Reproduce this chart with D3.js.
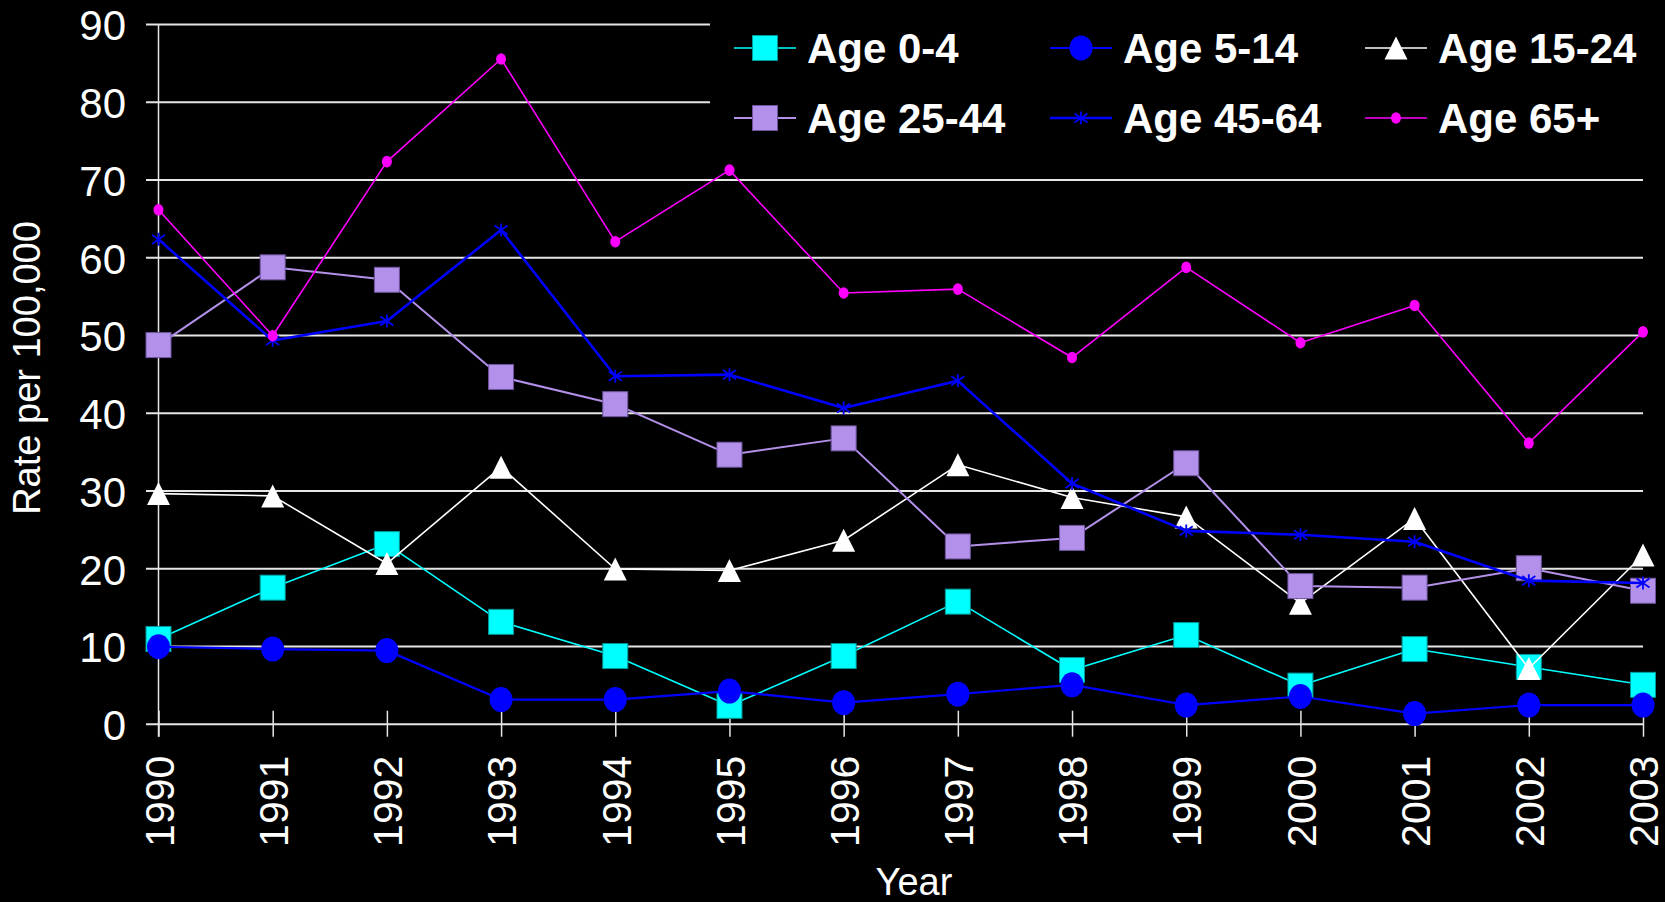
<!DOCTYPE html>
<html>
<head>
<meta charset="utf-8">
<script src="https://cdn.jsdelivr.net/npm/d3@7"></script>
<style>
  html, body { margin: 0; padding: 0; background: #000; }
  svg { display: block; }
  text { font-family: "Liberation Sans", Arial, Helvetica, sans-serif; fill: #fff; }
</style>
</head>
<body>
<svg id="chart" width="1665" height="902"></svg>
<script>
// ---- data ----
const years = [1990,1991,1992,1993,1994,1995,1996,1997,1998,1999,2000,2001,2002,2003];
const yTicks = [0,10,20,30,40,50,60,70,80,90];
const seriesNames = ["Age 0-4","Age 5-14","Age 15-24","Age 25-44","Age 45-64","Age 65+"];
const age0_4   = [10.9,17.5,23.1,13.1,8.7,2.3,8.7,15.7,6.9,11.4,4.9,9.6,7.3,5.0];
const age5_14  = [9.9,9.6,9.4,3.1,3.1,4.2,2.7,3.8,5.0,2.4,3.5,1.3,2.4,2.4];
const age15_24 = [29.6,29.3,20.6,33.0,19.9,19.7,23.6,33.3,29.1,26.6,15.5,26.4,7.1,21.7];
const age25_44 = [48.7,58.7,57.1,44.6,41.1,34.6,36.7,22.8,23.9,33.5,17.7,17.5,20.0,17.1];
const age45_64 = [62.3,49.3,51.8,63.5,44.7,44.9,40.6,44.1,30.9,24.8,24.3,23.4,18.4,18.1];
const age65    = [66.1,49.9,72.3,85.5,62.0,71.2,55.4,55.9,47.1,58.7,49.0,53.8,36.1,50.4];
const seriesValues = [age0_4, age5_14, age15_24, age25_44, age45_64, age65];

(function () {
// ---- styles ----
const styles = [
  {color:"#00ffff", width:1.6, marker:"square", size:25, stroke:"#009999"},
  {color:"#0000ff", width:2.2, marker:"ellipse", rx:11.5, ry:12.5},
  {color:"#ffffff", width:1.6, marker:"triangle", w:23, h:23},
  {color:"#b390e9", width:2.0, marker:"square", size:25, stroke:"#6f55a0"},
  {color:"#0000ff", width:2.6, marker:"asterisk", size:13},
  {color:"#ff00ff", width:1.6, marker:"ellipse", rx:5, ry:5.8}
];

const svg = d3.select("#chart");
const pLeft = 158.5, pRight = 1643, pTop = 24, pBottom = 723.7;
const x = d3.scaleLinear().domain([1990, 2003]).range([pLeft, pRight]);
const y = d3.scaleLinear().domain([0, 90]).range([pBottom, pTop]);

// gridlines + y labels
const yAxis = d3.axisLeft(y).tickValues(yTicks).tickSizeInner(-(pRight - 146)).tickSizeOuter(0).tickPadding(20);
const gy = svg.append("g").attr("transform", "translate(146,0)").call(yAxis);
gy.select(".domain").remove();
gy.selectAll(".tick line").attr("stroke", "#e6e6e6").attr("stroke-width", 2);
gy.selectAll(".tick text").attr("font-size", 42).attr("fill", "#fff").attr("dy", "0.38em")
  .attr("font-family", "Liberation Sans, Arial, sans-serif");

// x axis ticks
const xAxis = d3.axisBottom(x).tickValues(years).tickFormat(d3.format("d")).tickSizeInner(13).tickSizeOuter(0).tickPadding(0);
const gx = svg.append("g").attr("transform", `translate(0,${pBottom})`).call(xAxis);
gx.select(".domain").remove();
gx.selectAll(".tick line").attr("y1", -13).attr("y2", 13).attr("stroke", "#e6e6e6").attr("stroke-width", 1.5);
gx.selectAll(".tick text")
  .attr("font-size", 41).attr("fill", "#fff")
  .attr("font-family", "Liberation Sans, Arial, sans-serif")
  .attr("text-anchor", "end")
  .attr("x", 0).attr("y", 0).attr("dy", "0.36em")
  .attr("transform", "translate(0,32) rotate(-90)");

// y axis line
svg.append("line").attr("x1", pLeft).attr("x2", pLeft).attr("y1", pTop).attr("y2", pBottom + 13)
  .attr("stroke", "#e6e6e6").attr("stroke-width", 1.5);

// axis titles
svg.append("text").attr("transform", "translate(40,368) rotate(-90)")
  .attr("text-anchor", "middle").attr("font-size", 38).text("Rate per 100,000");
svg.append("text").attr("x", 914).attr("y", 895)
  .attr("text-anchor", "middle").attr("font-size", 38).text("Year");

// legend background
svg.append("rect").attr("x", 710).attr("y", 0).attr("width", 955).attr("height", 150).attr("fill", "#000");

function drawMarker(g, st, cx, cy) {
  if (st.marker === "square") {
    g.append("rect").attr("x", cx - st.size/2).attr("y", cy - st.size/2)
      .attr("width", st.size).attr("height", st.size)
      .attr("fill", st.color).attr("stroke", st.stroke).attr("stroke-width", 1);
  } else if (st.marker === "ellipse") {
    g.append("ellipse").attr("cx", cx).attr("cy", cy).attr("rx", st.rx).attr("ry", st.ry)
      .attr("fill", st.color);
  } else if (st.marker === "triangle") {
    const p = d3.path();
    p.moveTo(cx, cy - st.h/2); p.lineTo(cx + st.w/2, cy + st.h/2); p.lineTo(cx - st.w/2, cy + st.h/2); p.closePath();
    g.append("path").attr("d", p.toString()).attr("fill", st.color);
  } else if (st.marker === "asterisk") {
    const s = st.size/2, p = d3.path();
    p.moveTo(cx, cy - s); p.lineTo(cx, cy + s);
    p.moveTo(cx - s, cy - s*0.7); p.lineTo(cx + s, cy + s*0.7);
    p.moveTo(cx - s, cy + s*0.7); p.lineTo(cx + s, cy - s*0.7);
    g.append("path").attr("d", p.toString()).attr("stroke", st.color).attr("stroke-width", 1.8).attr("fill", "none");
  }
}

// series
const line = d3.line().x((d, i) => x(years[i])).y(d => y(d));
seriesValues.forEach((vals, si) => {
  const st = styles[si];
  const g = svg.append("g");
  g.append("path").attr("d", line(vals)).attr("fill", "none")
    .attr("stroke", st.color).attr("stroke-width", st.width).attr("stroke-linejoin", "round");
  vals.forEach((v, i) => drawMarker(g, st, x(years[i]), y(v)));
});

// legend
const colX = [765, 1081, 1396];
const rowY = [48, 118];
seriesNames.forEach((name, i) => {
  const st = styles[i];
  const cx = colX[i % 3], cy = rowY[Math.floor(i / 3)];
  const g = svg.append("g");
  g.append("line").attr("x1", cx - 31).attr("x2", cx + 31).attr("y1", cy).attr("y2", cy)
    .attr("stroke", st.color).attr("stroke-width", st.width);
  drawMarker(g, st, cx, cy);
  g.append("text").attr("x", cx + 42).attr("y", cy + 15).attr("font-size", 42)
    .attr("font-weight", "bold").text(name);
});
})();
</script>
</body>
</html>
